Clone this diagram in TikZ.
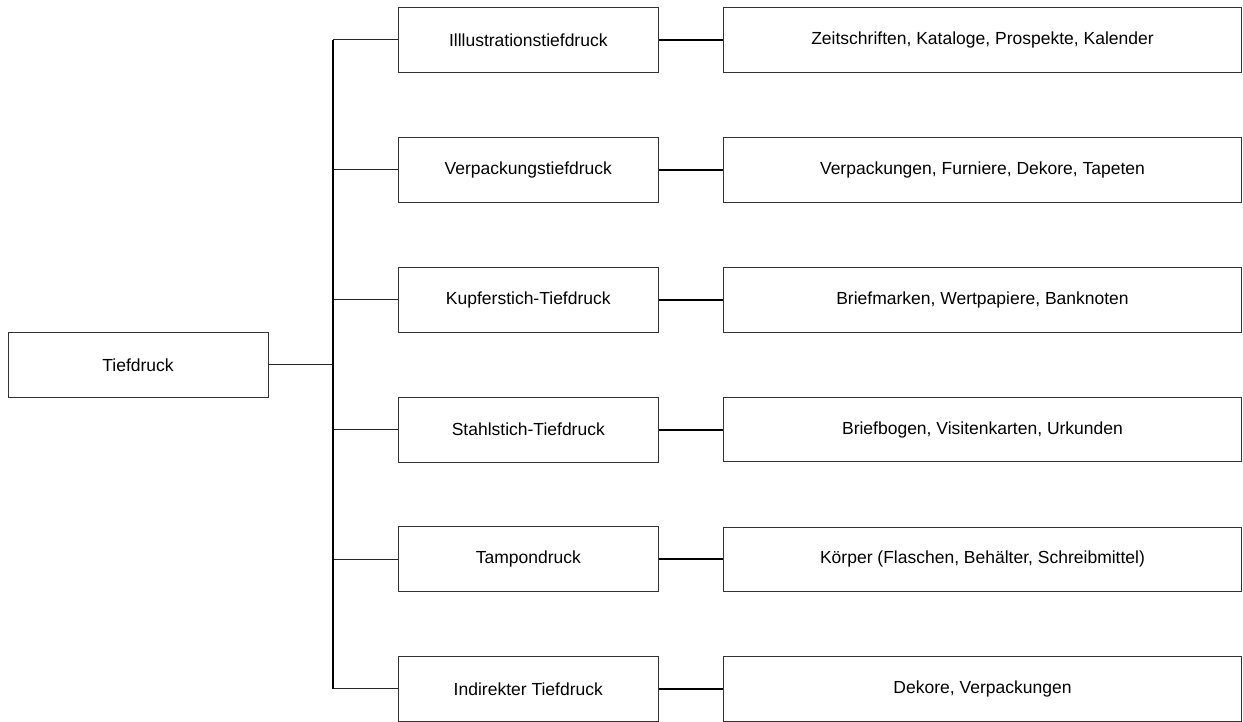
\documentclass[tikz,border=0pt]{standalone}
\usepackage{fontspec}
\setmainfont{Liberation Sans}
\begin{document}
\begin{tikzpicture}[x=1pt,y=-1pt,
  box/.style={draw=black!80, line width=1pt, fill=white, inner sep=0pt,
    font=\fontsize{17.5}{21}\selectfont},
  rootbox/.style={box, minimum width=260pt, minimum height=65pt},
  midbox/.style={box, minimum width=260pt, minimum height=65pt},
  leafbox/.style={box, minimum width=518pt, minimum height=64.5pt},
  branch/.style={draw=black!85, line width=1pt},
  trunk/.style={draw=black, line width=1.4pt},
  link/.style={draw=black, line width=2pt}]
\useasboundingbox (0,0) rectangle (1243,722);

% root
\node[rootbox] (root) at (138,364.8) {Tiefdruck};

% second level and leaves
\foreach \i/\y/\m/\l in {
  1/39.8/Illlustrationstiefdruck/{Zeitschriften, Kataloge, Prospekte, Kalender},
  2/169.8/Verpackungstiefdruck/{Verpackungen, Furniere, Dekore, Tapeten},
  3/299.8/Kupferstich-Tiefdruck/{Briefmarken, Wertpapiere, Banknoten},
  4/429.6/Stahlstich-Tiefdruck/{Briefbogen, Visitenkarten, Urkunden},
  5/559.4/Tampondruck/{Körper (Flaschen, Behälter, Schreibmittel)},
  6/688.8/Indirekter Tiefdruck/{Dekore, Verpackungen}} {
  \node[midbox] (m\i) at (528.3,\y) {\m};
  \node[leafbox] (l\i) at (982.5,\y) {\l};
  \coordinate (t\i) at (333,\y);
  \draw[branch] (t\i) -- (m\i.west);
  \draw[link] (m\i.east) -- (l\i.west);
}

% trunk
\coordinate (tr) at (333,364.8);
\draw[branch] (root.east) -- (tr);
\draw[trunk] (t1) -- (t6);
\end{tikzpicture}
\end{document}
